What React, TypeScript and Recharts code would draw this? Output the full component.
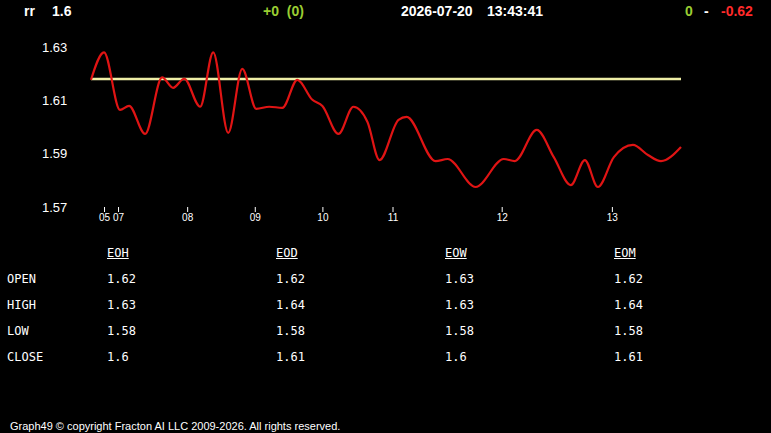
import React from 'react'
import { LineChart, Line, XAxis, YAxis, ReferenceLine } from 'recharts'

// sample positions along the session axis and the rr readings at them
const sampleIdx = [0, 2.6, 5.8, 7.6, 10.8, 14.2, 16.4, 18.6, 21.8, 24.4, 27.4, 30.2, 33, 35.6, 38.2, 41.2, 44.2, 46.2, 49.4, 52.4, 55.2, 57.6, 61.4, 63, 68.8, 71.2, 76.8, 82.4, 84.6, 89, 92.4, 95.8, 98.6, 101.2, 104.4, 108.2, 111.2, 113.8, 117.8]
const rrValues = [1.6177, 1.628, 1.6064, 1.6079, 1.5974, 1.6186, 1.6147, 1.6181, 1.6076, 1.628, 1.5978, 1.6218, 1.6068, 1.6076, 1.6072, 1.6177, 1.6102, 1.6079, 1.5974, 1.6076, 1.6019, 1.5876, 1.6027, 1.6038, 1.5872, 1.588, 1.5775, 1.588, 1.5872, 1.5989, 1.5887, 1.5782, 1.5876, 1.5775, 1.5887, 1.5933, 1.5895, 1.5872, 1.5925]
const openLevel = 1.618

const hourTicks = [2.7, 5.5, 19.3, 32.8, 46.3, 60.3, 82.1, 104.1]
const hourLabels = ['05', '07', '08', '09', '10', '11', '12', '13']
const priceTicks = [1.57, 1.59, 1.61, 1.63]

const tableCols = ['EOH', 'EOD', 'EOW', 'EOM']
const rowLabels = ['OPEN', 'HIGH', 'LOW', 'CLOSE']
const eohValues = [1.62, 1.63, 1.58, 1.6]
const eodValues = [1.62, 1.64, 1.58, 1.61]
const eowValues = [1.63, 1.63, 1.58, 1.6]
const eomValues = [1.62, 1.64, 1.58, 1.61]

const chartData = sampleIdx.map((t, i) => ({ t, rr: rrValues[i] }))
const tableData = [eohValues, eodValues, eowValues, eomValues]

const sans = 'Arial, "Liberation Sans", sans-serif'
const mono = '"DejaVu Sans Mono", monospace'

const hourLabel = (v: number) => {
  const i = hourTicks.indexOf(v)
  return i >= 0 ? hourLabels[i] : ''
}

function PriceTick(props: any) {
  const { y, payload } = props
  return (
    <text x={42} y={y} dy="0.355em" fill="#fff" fontSize={13} fontFamily={sans} textAnchor="start">
      {payload.value.toFixed(2)}
    </text>
  )
}

function Head({ x, color, children }: { x: number; color: string; children: React.ReactNode }) {
  return (
    <span
      style={{
        position: 'absolute',
        left: x,
        top: 3.5,
        fontSize: 14,
        lineHeight: '14px',
        fontWeight: 'bold',
        color,
        fontFamily: sans,
        whiteSpace: 'pre',
      }}
    >
      {children}
    </span>
  )
}

const colX = [107, 276, 445, 614]
const rowTop = [273.3, 299.3, 325.3, 351.3]

export default function App() {
  return (
    <div style={{ position: 'absolute', left: 0, top: 0, width: 771, height: 433, background: '#000', overflow: 'hidden' }}>
      <Head x={24} color="#fff">rr</Head>
      <Head x={52} color="#fff">1.6</Head>
      <Head x={263} color="#9acd32">+0  (0)</Head>
      <Head x={401} color="#fff">2026-07-20</Head>
      <Head x={487} color="#fff">13:43:41</Head>
      <Head x={685} color="#9acd32">0</Head>
      <Head x={704} color="#fff">-</Head>
      <Head x={721} color="#ff2a2a">-0.62</Head>

      <div style={{ position: 'absolute', left: 0, top: 0 }}>
        <LineChart width={771} height={230} data={chartData} margin={{ top: 47, right: 90, left: 0, bottom: 0 }}>
          <XAxis
            dataKey="t"
            type="number"
            domain={[0, 117.8]}
            ticks={hourTicks}
            tickFormatter={hourLabel}
            axisLine={false}
            tickLine={{ stroke: '#fff' }}
            tickSize={5}
            height={23}
            tick={{ fill: '#fff', fontSize: 10, fontFamily: sans }}
            interval={0}
          />
          <YAxis
            type="number"
            domain={[1.57, 1.63]}
            ticks={priceTicks}
            width={91}
            axisLine={false}
            tickLine={false}
            tick={<PriceTick />}
            allowDataOverflow
          />
          <ReferenceLine y={openLevel} stroke="#eeeea6" strokeWidth={2.5} />
          <Line type="monotone" dataKey="rr" stroke="#e01414" strokeWidth={2.2} dot={false} isAnimationActive={false} />
        </LineChart>
      </div>

      {tableCols.map((c, i) => (
        <div
          key={c}
          style={{
            position: 'absolute',
            left: colX[i],
            top: 247,
            fontSize: 12,
            lineHeight: '12px',
            fontFamily: mono,
            color: '#fff',
            textDecoration: 'underline',
          }}
        >
          {c}
        </div>
      ))}
      {rowLabels.map((r, j) => (
        <React.Fragment key={r}>
          <div style={{ position: 'absolute', left: 7, top: rowTop[j], fontSize: 12, lineHeight: '12px', fontFamily: mono, color: '#fff' }}>{r}</div>
          {tableData.map((col, i) => (
            <div
              key={i}
              style={{ position: 'absolute', left: colX[i], top: rowTop[j], fontSize: 12, lineHeight: '12px', fontFamily: mono, color: '#fff' }}
            >
              {String(col[j])}
            </div>
          ))}
        </React.Fragment>
      ))}

      <div style={{ position: 'absolute', left: 10, top: 419.5, fontSize: 11, lineHeight: '12px', fontFamily: sans, color: '#fff', whiteSpace: 'pre' }}>
        Graph49 © copyright Fracton AI LLC 2009-2026. All rights reserved.
      </div>
    </div>
  )
}
